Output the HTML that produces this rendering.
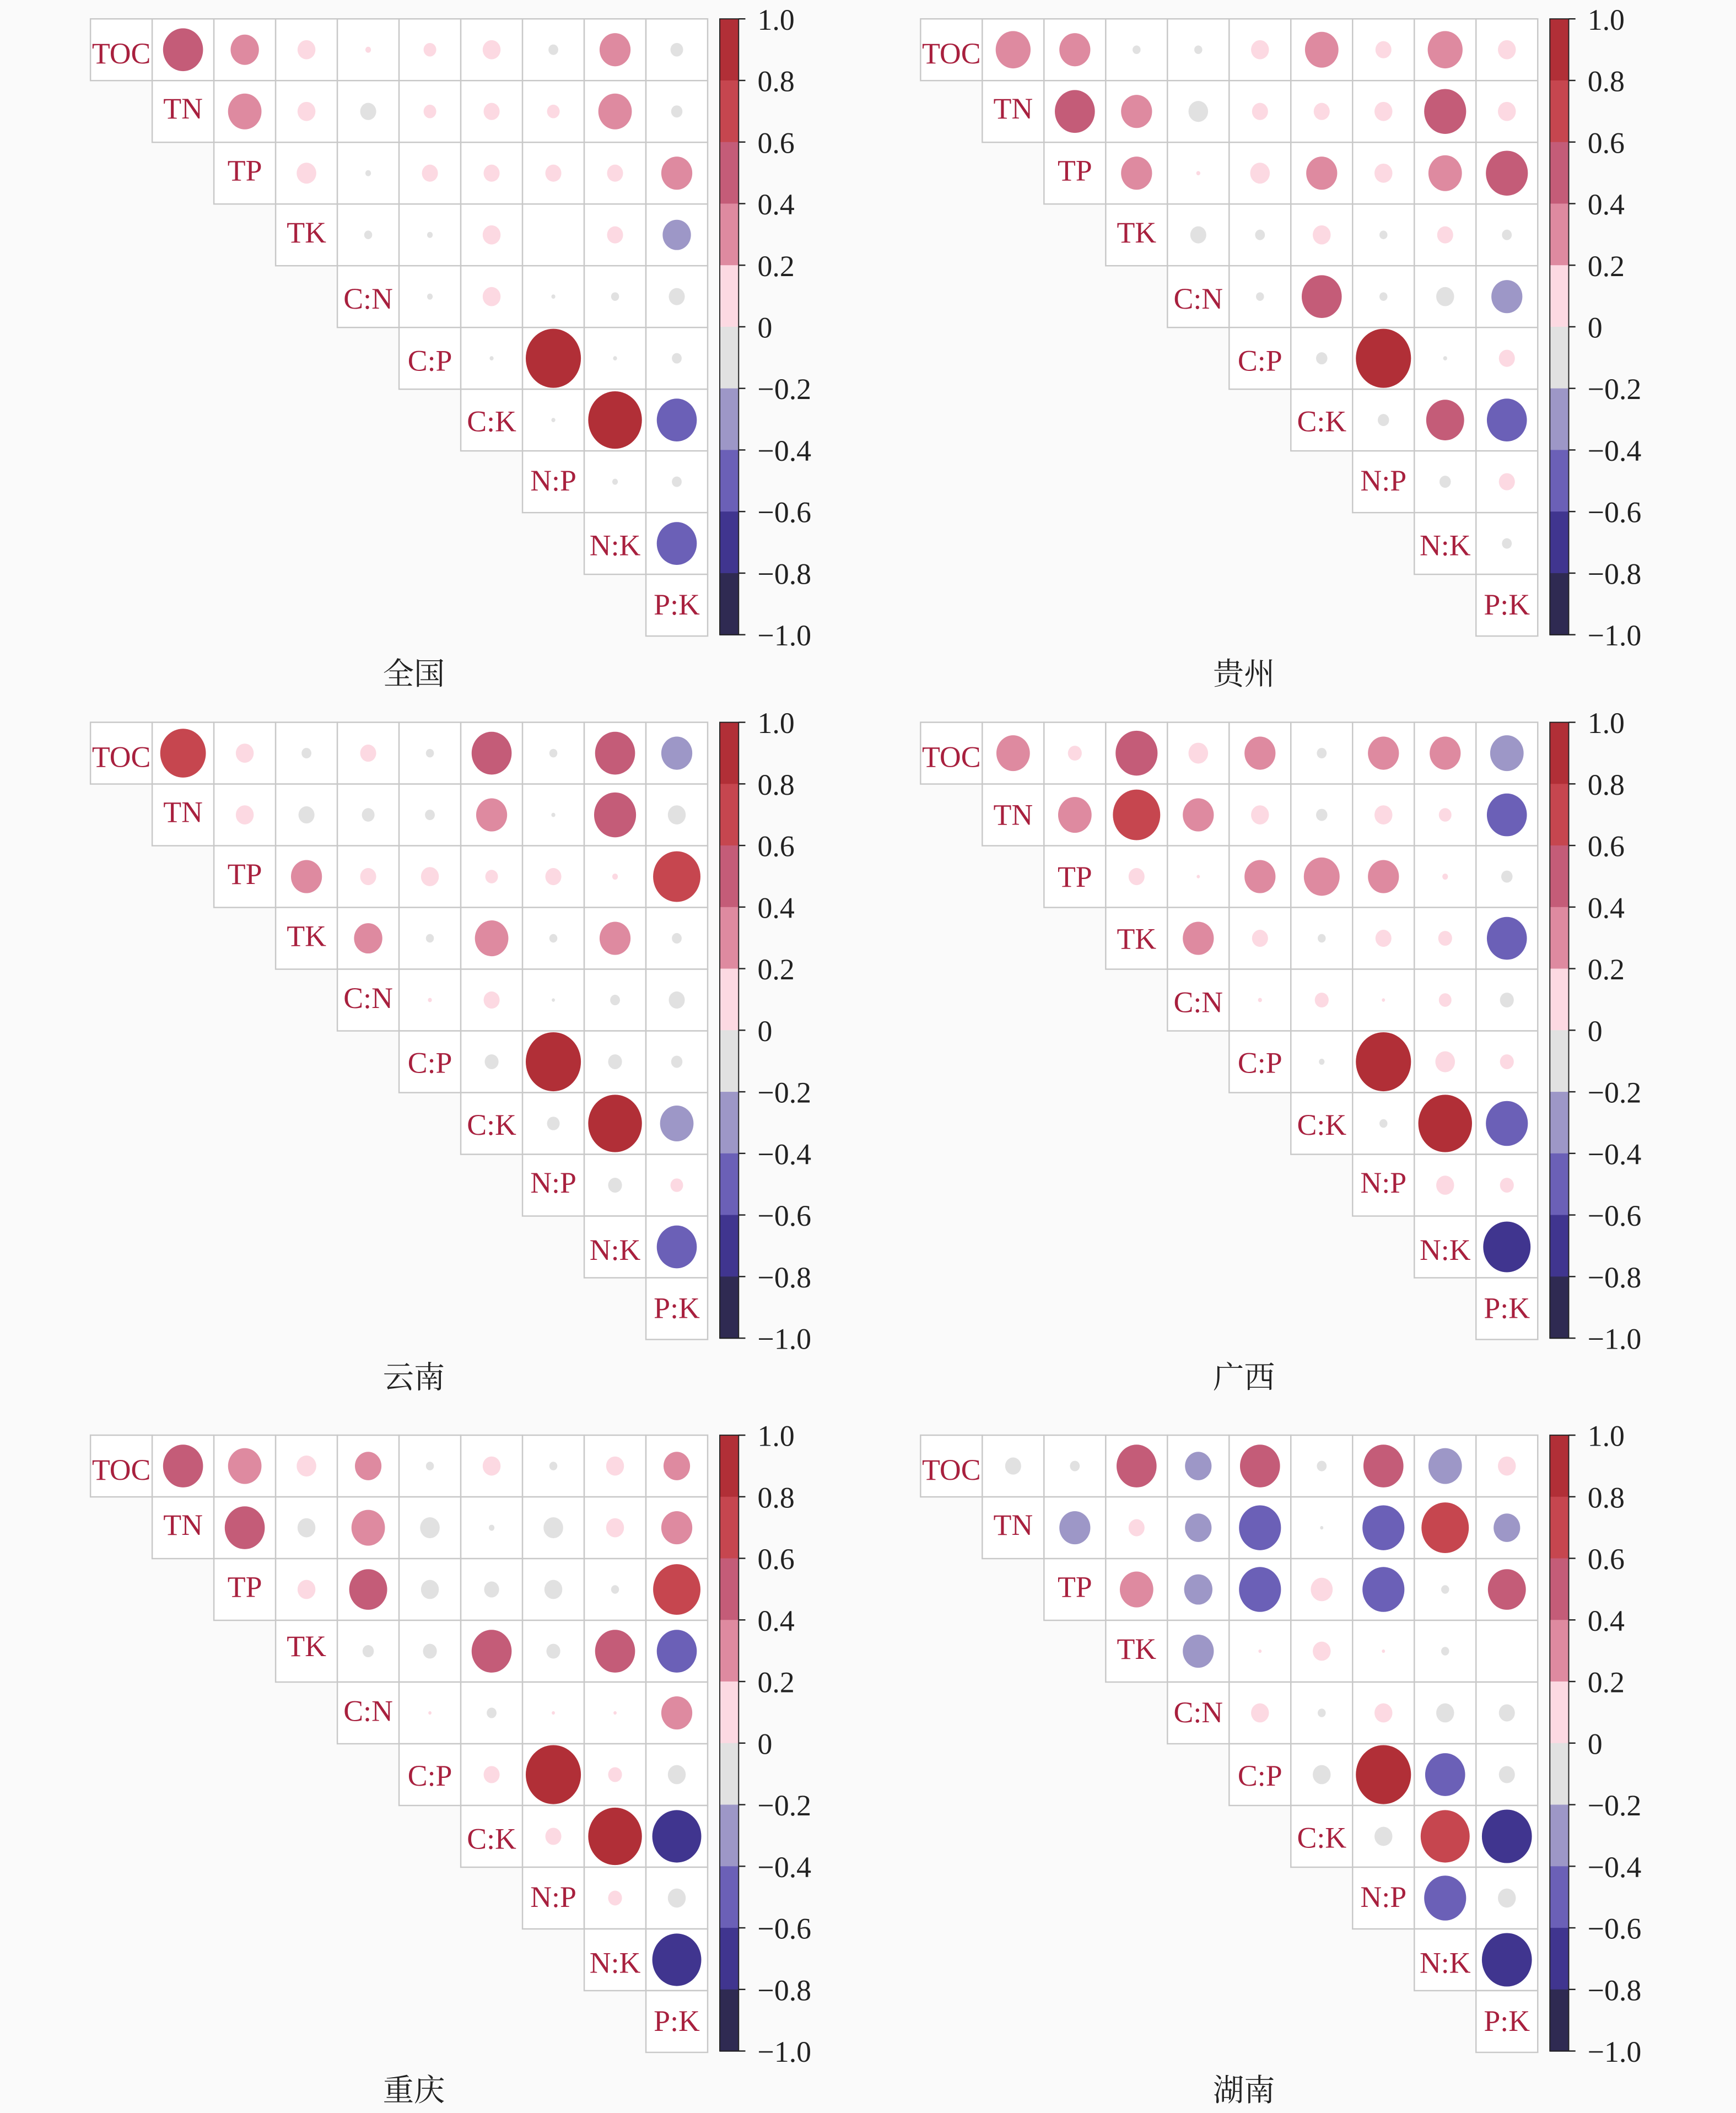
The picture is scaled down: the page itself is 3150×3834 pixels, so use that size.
<!DOCTYPE html>
<html><head><meta charset="utf-8"><style>
html,body{margin:0;padding:0;background:#fafafa;}
svg{display:block;}
.l{font-family:"Liberation Serif","Noto Serif CJK SC",serif;font-size:22px;fill:#a8203e;text-anchor:middle;}
.t{font-family:"Liberation Serif","Noto Serif CJK SC",serif;font-size:22px;fill:#222;}
.ti{font-family:"Liberation Serif","Noto Serif CJK SC",serif;font-size:23px;fill:#222;text-anchor:middle;}
</style></head><body>
<svg width="3150" height="3834" viewBox="0 0 1288 1568" xmlns="http://www.w3.org/2000/svg">
<rect width="1288" height="1568" fill="#fafafa"/>
<g id="dyn"></g>
<g transform="translate(67,14)">
<text class="l" x="22.9" y="33">TOC</text><text class="l" x="68.7" y="74">TN</text><text class="l" x="114.5" y="120">TP</text><text class="l" x="160.3" y="166">TK</text><text class="l" x="206.1" y="215">C:N</text><text class="l" x="251.9" y="261">C:P</text><text class="l" x="297.7" y="306">C:K</text><text class="l" x="343.5" y="350">N:P</text><text class="l" x="389.3" y="398">N:K</text><text class="l" x="435.1" y="442">P:K</text>
<text class="t" x="495" y="8">1.0</text><text class="t" x="495" y="53.7">0.8</text><text class="t" x="495" y="99.4">0.6</text><text class="t" x="495" y="145.1">0.4</text><text class="t" x="495" y="190.8">0.2</text><text class="t" x="495" y="236.5">0</text><text class="t" x="495" y="282.2">−0.2</text><text class="t" x="495" y="327.9">−0.4</text><text class="t" x="495" y="373.6">−0.6</text><text class="t" x="495" y="419.3">−0.8</text><text class="t" x="495" y="465">−1.0</text>
<text class="ti" x="240" y="494">全国</text></g>
<g transform="translate(683,14)">
<text class="l" x="22.9" y="33">TOC</text><text class="l" x="68.7" y="74">TN</text><text class="l" x="114.5" y="120">TP</text><text class="l" x="160.3" y="166">TK</text><text class="l" x="206.1" y="215">C:N</text><text class="l" x="251.9" y="261">C:P</text><text class="l" x="297.7" y="306">C:K</text><text class="l" x="343.5" y="350">N:P</text><text class="l" x="389.3" y="398">N:K</text><text class="l" x="435.1" y="442">P:K</text>
<text class="t" x="495" y="8">1.0</text><text class="t" x="495" y="53.7">0.8</text><text class="t" x="495" y="99.4">0.6</text><text class="t" x="495" y="145.1">0.4</text><text class="t" x="495" y="190.8">0.2</text><text class="t" x="495" y="236.5">0</text><text class="t" x="495" y="282.2">−0.2</text><text class="t" x="495" y="327.9">−0.4</text><text class="t" x="495" y="373.6">−0.6</text><text class="t" x="495" y="419.3">−0.8</text><text class="t" x="495" y="465">−1.0</text>
<text class="ti" x="240" y="494">贵州</text></g>
<g transform="translate(67,536)">
<text class="l" x="22.9" y="33">TOC</text><text class="l" x="68.7" y="74">TN</text><text class="l" x="114.5" y="120">TP</text><text class="l" x="160.3" y="166">TK</text><text class="l" x="206.1" y="212">C:N</text><text class="l" x="251.9" y="260">C:P</text><text class="l" x="297.7" y="306">C:K</text><text class="l" x="343.5" y="349">N:P</text><text class="l" x="389.3" y="399">N:K</text><text class="l" x="435.1" y="442">P:K</text>
<text class="t" x="495" y="8">1.0</text><text class="t" x="495" y="53.7">0.8</text><text class="t" x="495" y="99.4">0.6</text><text class="t" x="495" y="145.1">0.4</text><text class="t" x="495" y="190.8">0.2</text><text class="t" x="495" y="236.5">0</text><text class="t" x="495" y="282.2">−0.2</text><text class="t" x="495" y="327.9">−0.4</text><text class="t" x="495" y="373.6">−0.6</text><text class="t" x="495" y="419.3">−0.8</text><text class="t" x="495" y="465">−1.0</text>
<text class="ti" x="240" y="494">云南</text></g>
<g transform="translate(683,536)">
<text class="l" x="22.9" y="33">TOC</text><text class="l" x="68.7" y="76">TN</text><text class="l" x="114.5" y="122">TP</text><text class="l" x="160.3" y="168">TK</text><text class="l" x="206.1" y="215">C:N</text><text class="l" x="251.9" y="260">C:P</text><text class="l" x="297.7" y="306">C:K</text><text class="l" x="343.5" y="349">N:P</text><text class="l" x="389.3" y="399">N:K</text><text class="l" x="435.1" y="442">P:K</text>
<text class="t" x="495" y="8">1.0</text><text class="t" x="495" y="53.7">0.8</text><text class="t" x="495" y="99.4">0.6</text><text class="t" x="495" y="145.1">0.4</text><text class="t" x="495" y="190.8">0.2</text><text class="t" x="495" y="236.5">0</text><text class="t" x="495" y="282.2">−0.2</text><text class="t" x="495" y="327.9">−0.4</text><text class="t" x="495" y="373.6">−0.6</text><text class="t" x="495" y="419.3">−0.8</text><text class="t" x="495" y="465">−1.0</text>
<text class="ti" x="240" y="494">广西</text></g>
<g transform="translate(67,1065)">
<text class="l" x="22.9" y="33">TOC</text><text class="l" x="68.7" y="74">TN</text><text class="l" x="114.5" y="120">TP</text><text class="l" x="160.3" y="164">TK</text><text class="l" x="206.1" y="212">C:N</text><text class="l" x="251.9" y="260">C:P</text><text class="l" x="297.7" y="307">C:K</text><text class="l" x="343.5" y="350">N:P</text><text class="l" x="389.3" y="399">N:K</text><text class="l" x="435.1" y="442">P:K</text>
<text class="t" x="495" y="8">1.0</text><text class="t" x="495" y="53.7">0.8</text><text class="t" x="495" y="99.4">0.6</text><text class="t" x="495" y="145.1">0.4</text><text class="t" x="495" y="190.8">0.2</text><text class="t" x="495" y="236.5">0</text><text class="t" x="495" y="282.2">−0.2</text><text class="t" x="495" y="327.9">−0.4</text><text class="t" x="495" y="373.6">−0.6</text><text class="t" x="495" y="419.3">−0.8</text><text class="t" x="495" y="465">−1.0</text>
<text class="ti" x="240" y="494">重庆</text></g>
<g transform="translate(683,1065)">
<text class="l" x="22.9" y="33">TOC</text><text class="l" x="68.7" y="74">TN</text><text class="l" x="114.5" y="120">TP</text><text class="l" x="160.3" y="166">TK</text><text class="l" x="206.1" y="213">C:N</text><text class="l" x="251.9" y="260">C:P</text><text class="l" x="297.7" y="306">C:K</text><text class="l" x="343.5" y="350">N:P</text><text class="l" x="389.3" y="399">N:K</text><text class="l" x="435.1" y="442">P:K</text>
<text class="t" x="495" y="8">1.0</text><text class="t" x="495" y="53.7">0.8</text><text class="t" x="495" y="99.4">0.6</text><text class="t" x="495" y="145.1">0.4</text><text class="t" x="495" y="190.8">0.2</text><text class="t" x="495" y="236.5">0</text><text class="t" x="495" y="282.2">−0.2</text><text class="t" x="495" y="327.9">−0.4</text><text class="t" x="495" y="373.6">−0.6</text><text class="t" x="495" y="419.3">−0.8</text><text class="t" x="495" y="465">−1.0</text>
<text class="ti" x="240" y="494">湖南</text></g>
</svg>
<script>
const C=45.8;
const cols=['#b12f37','#c6464f','#c45c78','#de8aa0','#fcd9e2','#e1e1e1','#9d97c7','#6b60b7','#40358f','#2f2a52'];
const pos=[[67,14],[683,14],[67,536],[683,536],[67,1065],[683,1065]];
const D=[
[[0.5,0.25,0.1,0.01,0.05,0.1,-0.03,0.3,-0.05],[0.35,0.1,-0.08,0.05,0.08,0.05,0.35,-0.04],[0.12,-0.01,0.08,0.08,0.08,0.08,0.3],[-0.02,-0.01,0.1,0,0.08,-0.25],[-0.01,0.1,-0.005,-0.02,-0.08],[-0.005,0.95,-0.005,-0.03],[-0.005,0.9,-0.5],[-0.01,-0.03],[-0.5]],
[[0.38,0.3,-0.02,-0.02,0.1,0.35,0.08,0.38,0.1],[0.5,0.3,-0.12,0.08,0.08,0.1,0.55,0.1],[0.3,0.005,0.12,0.3,0.1,0.35,0.55],[-0.08,-0.03,0.1,-0.02,0.08,-0.03],[-0.02,0.5,-0.02,-0.1,-0.3],[-0.04,0.95,-0.005,0.08],[-0.04,0.45,-0.5],[-0.04,0.08],[-0.03]],
[[0.65,0.1,-0.03,0.08,-0.02,0.5,-0.02,0.5,-0.3],[0.1,-0.08,-0.05,-0.03,0.3,-0.005,0.55,-0.1],[0.3,0.08,0.1,0.05,0.08,0.01,0.7],[0.25,-0.02,0.35,-0.02,0.3,-0.03],[0.005,0.08,-0.003,-0.03,-0.08],[-0.06,0.95,-0.06,-0.04],[-0.05,0.9,-0.35],[-0.06,0.05],[-0.5]],
[[0.35,0.06,0.55,0.12,0.3,-0.03,0.3,0.3,-0.35],[0.35,0.7,0.3,0.1,-0.04,0.1,0.05,-0.5],[0.08,0.003,0.3,0.4,0.3,0.01,-0.04],[0.3,0.08,-0.02,0.08,0.06,-0.5],[0.005,0.06,0.003,0.05,-0.06],[-0.01,0.95,0.12,0.06],[-0.02,0.9,-0.55],[0.1,0.06],[-0.7]],
[[0.5,0.35,0.12,0.22,-0.02,0.1,-0.02,0.1,0.22],[0.5,-0.1,0.35,-0.12,-0.01,-0.12,0.1,0.3],[0.1,0.45,-0.1,-0.07,-0.1,-0.02,0.7],[-0.04,-0.06,0.5,-0.06,0.5,-0.5],[0.003,-0.03,0.003,0.003,0.3],[0.08,0.95,0.06,-0.1],[0.08,0.9,-0.75],[0.06,-0.1],[-0.75]],
[[-0.08,-0.03,0.5,-0.22,0.5,-0.03,0.5,-0.35,0.1],[-0.3,0.08,-0.22,-0.55,-0.003,-0.55,0.7,-0.22],[0.35,-0.25,-0.55,0.15,-0.55,-0.02,0.45],[-0.3,0.002,0.1,0.002,-0.02,0],[0.1,-0.02,0.1,-0.1,-0.08],[-0.1,0.95,-0.5,-0.08],[-0.1,0.75,-0.78],[-0.55,-0.1],[-0.78]]
];
const NS='http://www.w3.org/2000/svg';
const dyn=document.getElementById('dyn');
function el(t,a){const e=document.createElementNS(NS,t);for(const k in a)e.setAttribute(k,a[k]);dyn.appendChild(e);return e;}
pos.forEach(([x0,y0],p)=>{
  for(let i=0;i<10;i++)for(let j=i;j<10;j++)
    el('rect',{x:x0+j*C,y:y0+i*C,width:C,height:C,fill:'#fff',stroke:'#c8c8c8','stroke-width':1});
  for(let i=0;i<9;i++)for(let j=i+1;j<10;j++){
    const r=D[p][i][j-i-1];if(r===0)continue;
    let b=Math.floor((1-r)/0.2+1e-9);if(r<0&&r>-0.2)b=5;if(r>=0&&r<0.2)b=4;b=Math.max(0,Math.min(9,b));
    const rad=Math.max(1.2,21*Math.sqrt(Math.abs(r)));
    el('ellipse',{cx:x0+j*C+C/2,cy:y0+i*C+C/2,rx:rad,ry:rad*1.07,fill:cols[b]});
  }
  const H=457;
  for(let k=0;k<10;k++)el('rect',{x:x0+467,y:y0+k*H/10,width:14,height:H/10+0.5,fill:cols[k]});
  el('rect',{x:x0+467,y:y0,width:14,height:H,fill:'none',stroke:'#222','stroke-width':0.8});
  for(let k=0;k<=10;k++)el('line',{x1:x0+481,x2:x0+486,y1:y0+k*H/10,y2:y0+k*H/10,stroke:'#222','stroke-width':1});
});
</script>
</body></html>
